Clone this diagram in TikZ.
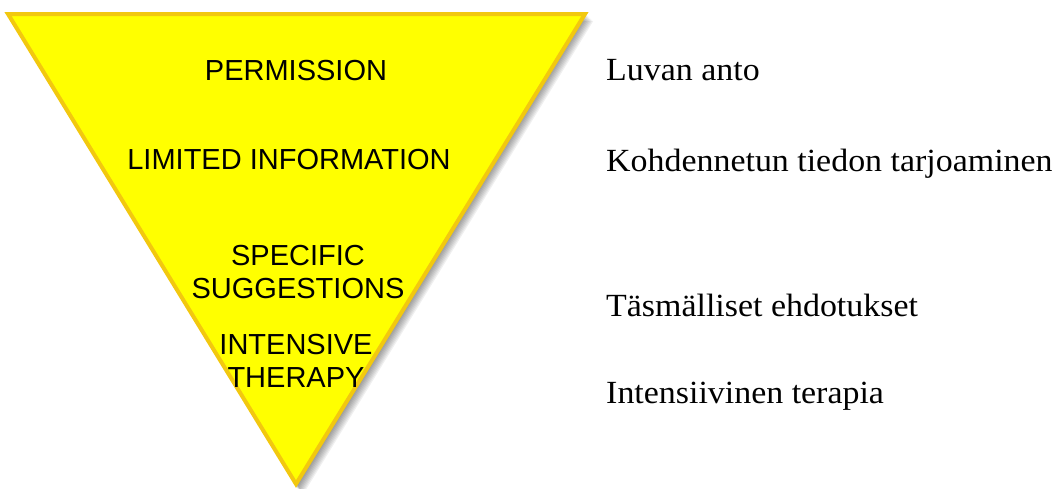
\documentclass[tikz,border=0pt]{standalone}
\usepackage{fontspec}
\setmainfont{Liberation Serif}
\newfontfamily\armfont{Liberation Sans}
\newfontfamily\fifont[FakeStretch=1.05]{Liberation Serif}
\usetikzlibrary{positioning}

\definecolor{tryellow}{HTML}{FFFF00}
\definecolor{trgold}{HTML}{F2C80F}

\begin{document}
\begin{tikzpicture}[
  x=1pt,y=-1pt,
  level/.style={font=\armfont\fontsize{29}{33.5}\selectfont,align=center,inner sep=0pt},
  gloss/.style={font=\fifont\fontsize{32.3}{38}\selectfont,anchor=base west,inner sep=0pt},
  shade/.style={fill=black,opacity=0.06}
]
\useasboundingbox (0,0) rectangle (1062,488);
% drop shadow
\foreach \d in {1,...,8}
  \fill[shade] (7+0.9*\d,14+0.9*\d) -- (586+0.9*\d,14+0.9*\d) -- (296+0.9*\d,487+0.9*\d) -- cycle;
% the triangle
\draw[fill=tryellow,draw=trgold,line width=4pt,line join=miter]
  (8,14) -- (585,14) -- (296,484) -- cycle;
% levels inside
\node[level,anchor=base] (perm) at (296,80)  {PERMISSION};
\node[level,anchor=base] (linf) at (289,169) {LIMITED INFORMATION};
\node[level] (spec) at (298,272) {SPECIFIC\\SUGGESTIONS};
\node[level] (ther) at (296,361) {INTENSIVE\\THERAPY};
% Finnish glosses
\node[gloss] (luva) at (606,80)  {Luvan anto};
\node[gloss] (kohd) at (606,171) {Kohdennetun tiedon tarjoaminen};
\node[gloss] (tasm) at (606,316) {Täsmälliset ehdotukset};
\node[gloss] (inte) at (606,403) {Intensiivinen terapia};
\end{tikzpicture}
\end{document}
